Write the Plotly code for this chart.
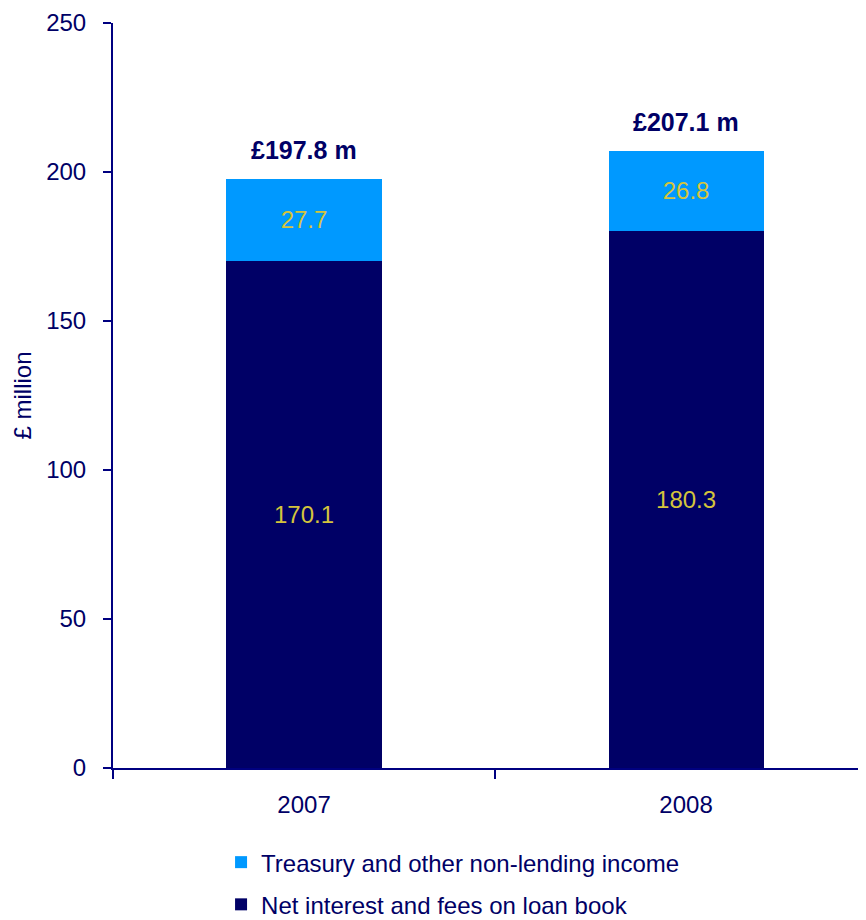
import plotly.graph_objects as go

years = ["2007", "2008"]
net_interest = [170.1, 180.3]
treasury = [27.7, 26.8]
totals = [197.8, 207.1]
total_labels = ["£197.8 m", "£207.1 m"]
y_ticks = [0, 50, 100, 150, 200, 250]

NAVY = "#000066"
LIGHT = "#0099FF"
GOLD = "#D4C43C"
AXIS = "#000080"
FONT = "Arial, Liberation Sans, sans-serif"

fig = go.Figure()
fig.add_trace(go.Bar(
    x=years, y=net_interest, name="Net interest and fees on loan book",
    marker=dict(color=NAVY, line=dict(width=0)),
    text=[f"{v:.1f}" for v in net_interest], textposition="inside",
    insidetextanchor="middle", textangle=0,
    textfont=dict(color=GOLD, size=24, family=FONT),
    legendgroup="a", legendrank=2, hoverinfo="skip",
))
fig.add_trace(go.Bar(
    x=years, y=treasury, name="Treasury and other non-lending income",
    marker=dict(color=LIGHT, line=dict(width=0)),
    text=[f"{v:.1f}" for v in treasury], textposition="inside",
    insidetextanchor="middle", textangle=0,
    textfont=dict(color=GOLD, size=24, family=FONT),
    legendgroup="b", legendrank=1, hoverinfo="skip",
))

annotations = []
for i, (tot, lab) in enumerate(zip(totals, total_labels)):
    annotations.append(dict(
        x=i, y=tot, xref="x", yref="y", text=f"<b>{lab}</b>",
        showarrow=False, yanchor="bottom", yshift=13,
        font=dict(color=NAVY, size=25, family=FONT),
    ))
annotations.append(dict(
    x=0, y=0.5, xref="paper", yref="paper", text="£ million",
    textangle=-90, showarrow=False, xanchor="center", yanchor="middle",
    xshift=-91, font=dict(color=NAVY, size=24, family=FONT),
))

fig.update_layout(
    width=858, height=912,
    margin=dict(l=105, r=0, t=15, b=152, autoexpand=False),
    paper_bgcolor="white", plot_bgcolor="white",
    barmode="stack", bargap=0.594,
    font=dict(family=FONT, color=NAVY, size=24),
    showlegend=True,
    legend=dict(
        orientation="v", traceorder="grouped",
        x=0.1435, xanchor="left", y=-0.0967, yanchor="top",
        font=dict(size=24, color=NAVY, family=FONT),
        tracegroupgap=8, bgcolor="rgba(0,0,0,0)",
    ),
    annotations=annotations,
)
fig.update_xaxes(
    range=[-0.5, 1.471], showgrid=False, zeroline=False,
    showline=True, linecolor=AXIS, linewidth=2,
    ticks="outside", tickson="boundaries", ticklen=9, tickwidth=2, tickcolor=AXIS,
    tickfont=dict(size=24, color=NAVY, family=FONT),
    ticklabelstandoff=14, ticklabeloverflow="allow",
)
fig.update_yaxes(
    range=[0, 250], tickvals=y_ticks, showgrid=False, zeroline=False,
    showline=True, linecolor=AXIS, linewidth=2,
    ticks="outside", ticklen=8, tickwidth=2, tickcolor=AXIS,
    tickfont=dict(size=24, color=NAVY, family=FONT),
    ticklabelstandoff=12, ticklabeloverflow="allow",
)

fig.write_html("out.html")
